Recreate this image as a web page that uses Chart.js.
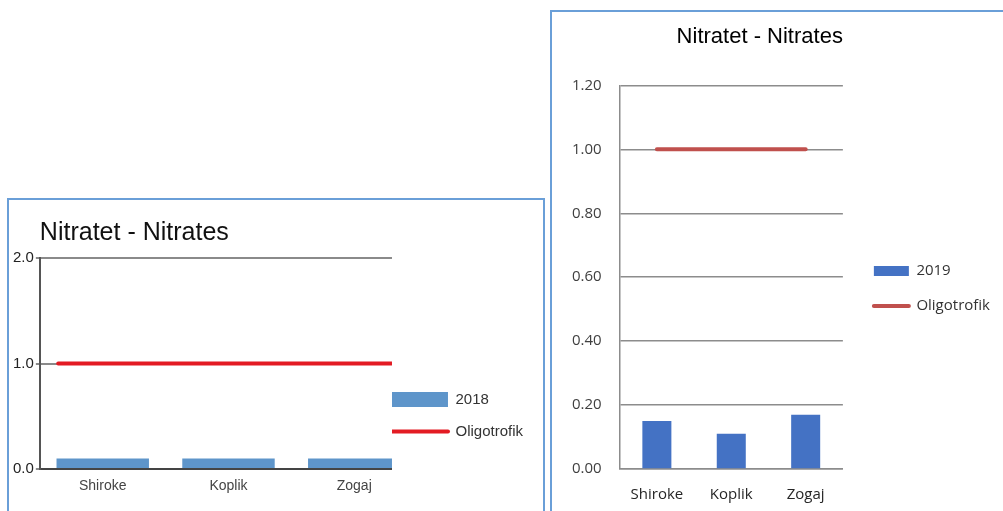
<!DOCTYPE html>
<html>
<head>
<meta charset="utf-8">
<script src="https://cdn.jsdelivr.net/npm/chart.js@4"></script>
<style>
  html, body { margin: 0; padding: 0; background: #fff; overflow: hidden; }
  .frame { position: absolute; border: 2px solid #6a9fd8; background: #fff; }
  #box2018 { left: 7px; top: 198px; }
  #box2019 { left: 550px; top: 10px; }
  canvas { display: block; }
</style>
</head>
<body>
<div class="frame" id="box2018"><canvas id="chart2018" width="534" height="448"></canvas></div>
<div class="frame" id="box2019"><canvas id="chart2019" width="460" height="542"></canvas></div>
<script>
// data
const categories = ['Shiroke', 'Koplik', 'Zogaj'];
const nitrates2018 = [0.1, 0.1, 0.1];
const nitrates2019 = [0.15, 0.11, 0.17];
const oligotrofik = [1, 1, 1];
const chartTitle = 'Nitratet - Nitrates';

// legend: one entry per dataset, line datasets drawn as a short line
function legendItems(chart) {
    return chart.data.datasets.map((ds, i) => ({
        text: [ds.label],
        fillStyle: ds.type === 'line' ? 'rgba(0,0,0,0)' : ds.backgroundColor,
        strokeStyle: ds.borderColor,
        lineWidth: ds.type === 'line' ? 4 : 0,
        lineCap: 'round',
        pointStyle: ds.type === 'line' ? 'line' : 'rect',
        fontColor: '#333',
        hidden: false,
        datasetIndex: i
    }));
}

// Left chart (2018) - the plot is cut off on the right like the original
new Chart(document.getElementById('chart2018'), {
    data: {
        datasets: [{
            type: 'bar',
            label: '2018',
            data: nitrates2018.map((v, i) => ({ x: i, y: v })),
            backgroundColor: '#5e95ca',
            barPercentage: 0.735,
            categoryPercentage: 1,
            grouped: false,
            clip: 0,
            order: 2
        }, {
            type: 'line',
            label: 'Oligotrofik',
            xAxisID: 'xo',
            data: oligotrofik.map((v, i) => ({ x: i, y: v })),
            borderColor: '#e31b23',
            borderWidth: 4,
            borderCapStyle: 'round',
            pointRadius: 0,
            clip: 0,
            order: 1
        }]
    },
    options: {
        responsive: false,
        animation: false,
        layout: { padding: { left: 2, right: 10 } },
        plugins: {
            tooltip: { enabled: false },
            title: {
                display: true,
                text: chartTitle,
                align: 'start',
                fullSize: false,
                color: '#111',
                font: { family: 'Liberation Sans', size: 25, weight: 'normal' },
                padding: { top: 18, bottom: 10 }
            },
            legend: {
                position: 'right',
                maxWidth: 300,
                labels: {
                    usePointStyle: true,
                    pointStyleWidth: 56,
                    boxHeight: 15,
                    padding: 0,
                    color: '#333',
                    font: { family: 'Liberation Sans', size: 15, lineHeight: '32px' },
                    generateLabels: legendItems
                }
            }
        },
        scales: {
            x: {
                type: 'linear',
                offset: false,
                min: -0.5,
                max: 2.3,
                afterBuildTicks: (s) => { s.ticks = categories.map((c, i) => ({ value: i })); },
                afterFit: (s) => { s.height = 179; },
                grid: { display: false, drawTicks: false, offset: false },
                border: { display: true, color: '#444', width: 2 },
                ticks: {
                    callback: (v) => categories[v],
                    autoSkip: false,
                    maxRotation: 0,
                    padding: 9,
                    color: '#444',
                    font: { family: 'Liberation Sans', size: 14 }
                }
            },
            xo: { type: 'linear', display: false, offset: false, min: -0.11, max: 2 },
            y: {
                min: 0,
                max: 2,
                grid: { color: '#8a8a8a', lineWidth: 2, tickLength: 4 },
                border: { color: '#555', width: 2 },
                ticks: {
                    stepSize: 1,
                    padding: 2,
                    color: '#222',
                    callback: (v) => v.toFixed(1),
                    font: { family: 'Liberation Sans', size: 15 }
                }
            }
        }
    }
});

// Right chart (2019)
new Chart(document.getElementById('chart2019'), {
    data: {
        labels: categories,
        datasets: [{
            type: 'bar',
            label: '2019',
            data: nitrates2019,
            backgroundColor: '#4472c4',
            barPercentage: 0.39,
            categoryPercentage: 1,
            order: 2
        }, {
            type: 'line',
            label: 'Oligotrofik',
            data: oligotrofik,
            borderColor: '#c0504d',
            borderWidth: 4,
            borderCapStyle: 'round',
            pointRadius: 0,
            order: 1
        }]
    },
    options: {
        responsive: false,
        animation: false,
        layout: { padding: { left: 2, right: 12 } },
        plugins: {
            tooltip: { enabled: false },
            title: {
                display: true,
                text: chartTitle,
                align: 'end',
                fullSize: false,
                color: '#000',
                font: { family: 'Liberation Sans', size: 22, weight: 'normal' },
                padding: { top: 12, bottom: 35 }
            },
            legend: {
                position: 'right',
                maxWidth: 300,
                labels: {
                    usePointStyle: true,
                    pointStyleWidth: 35,
                    boxHeight: 10,
                    padding: 31,
                    color: '#222',
                    font: { family: 'Open Sans', size: 15, lineHeight: '4px' },
                    generateLabels: legendItems
                }
            }
        },
        scales: {
            x: {
                afterFit: (s) => { s.height = 85; },
                grid: { display: false, drawTicks: false },
                border: { color: '#8c8c8c', width: 1.5 },
                ticks: {
                    padding: 17,
                    color: '#262626',
                    font: { family: 'Open Sans', size: 15 }
                }
            },
            y: {
                min: 0,
                max: 1.2,
                grid: { color: '#8c8c8c', lineWidth: 1.5, drawTicks: false },
                border: { color: '#8c8c8c', width: 1.5 },
                ticks: {
                    stepSize: 0.2,
                    padding: 18,
                    color: '#404040',
                    callback: (v) => v.toFixed(2),
                    font: { family: 'Open Sans', size: 15 }
                }
            }
        }
    }
});
</script>
</body>
</html>
